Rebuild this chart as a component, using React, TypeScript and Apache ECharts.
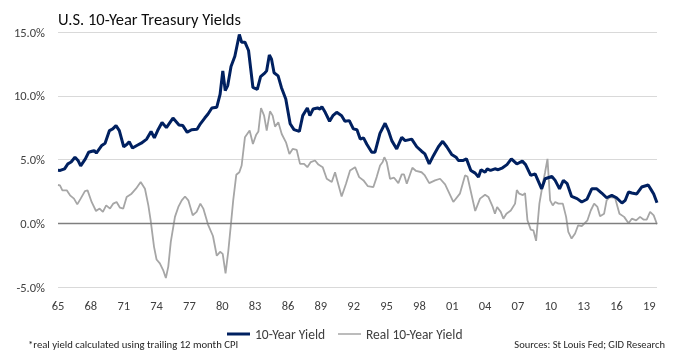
import { useEffect, useRef } from 'react';
import * as echarts from 'echarts';

const nominalYears = [
  1965.0, 1965.2, 1965.6, 1965.9, 1966.2, 1966.55, 1966.85, 1967.07, 1967.5, 1967.8,
  1968.1, 1968.3, 1968.5, 1969.0, 1969.3, 1969.7, 1970.0, 1970.3, 1970.6, 1971.0,
  1971.3, 1971.5, 1971.8, 1972.2, 1972.6, 1973.1, 1973.5, 1973.8, 1974.1, 1974.5,
  1974.9, 1975.5, 1976.05, 1976.4, 1976.8, 1977.2, 1977.7, 1978.0, 1978.4, 1978.7,
  1979.05, 1979.5, 1979.8, 1980.05, 1980.27, 1980.5, 1980.8, 1981.15, 1981.56, 1981.77,
  1982.07, 1982.4, 1982.8, 1983.2, 1983.5, 1983.9, 1984.05, 1984.3, 1984.5, 1984.73,
  1985.1, 1985.4, 1985.8, 1986.2, 1986.55, 1987.04, 1987.35, 1987.77, 1988.0, 1988.3,
  1988.7, 1988.93, 1989.1, 1989.4, 1989.8, 1990.1, 1990.45, 1990.9, 1991.2, 1991.6,
  1991.97, 1992.3, 1992.6, 1992.9, 1993.2, 1993.65, 1993.95, 1994.4, 1994.87, 1995.17,
  1995.48, 1995.93, 1996.39, 1996.7, 1997.3, 1997.76, 1998.2, 1998.5, 1998.9, 1999.28,
  1999.74, 2000.13, 2000.5, 2000.95, 2001.35, 2001.56, 2001.96, 2002.3, 2002.7, 2003.1,
  2003.4, 2003.63, 2004.0, 2004.2, 2004.5, 2004.9, 2005.2, 2005.6, 2006.0, 2006.4,
  2006.9, 2007.4, 2007.7, 2008.17, 2008.57, 2009.17, 2009.48, 2010.1, 2010.4, 2010.8,
  2011.15, 2011.5, 2011.9, 2012.4, 2012.83, 2013.3, 2013.74, 2014.2, 2014.65, 2015.1,
  2015.57, 2016.0, 2016.5, 2016.8, 2017.1, 2017.4, 2017.85, 2018.3, 2018.9, 2019.2,
  2019.4, 2019.7,
];
const nominalValues = [
  4.15, 4.14, 4.27, 4.66, 4.8, 5.18, 4.9, 4.5, 5.05, 5.57,
  5.65, 5.7, 5.5, 6.1, 6.27, 7.27, 7.4, 7.66, 7.27, 6.0,
  6.2, 6.4, 5.9, 6.1, 6.28, 6.6, 7.2, 6.7, 7.27, 7.9,
  7.5, 8.25, 7.7, 7.66, 7.13, 7.34, 7.37, 7.8, 8.25, 8.57,
  9.04, 9.1, 10.1, 11.95, 10.4, 10.8, 12.3, 13.1, 14.8, 14.2,
  14.2, 13.55, 10.65, 10.5, 11.5, 11.8, 11.95, 13.2, 12.86, 11.8,
  11.56, 10.65, 9.74, 7.8, 7.34, 7.2, 8.44, 9.04, 8.44, 8.96,
  9.04, 8.96, 9.14, 8.7, 8.0, 8.44, 8.7, 8.44, 8.0, 8.05,
  7.4, 7.34, 6.6, 6.7, 6.2, 5.57, 5.57, 7.05, 7.84, 7.27,
  6.48, 5.83, 6.74, 6.48, 6.6, 6.0, 5.65, 5.44, 4.66, 5.3,
  6.0, 6.43, 6.0, 5.4, 5.18, 4.92, 4.92, 5.05, 4.14, 3.93,
  3.62, 4.2, 4.0, 4.27, 4.14, 4.27, 4.2, 4.35, 4.6, 5.05,
  4.65, 4.87, 4.6, 3.75, 3.88, 2.7, 3.49, 3.67, 3.36, 2.7,
  3.36, 3.1, 2.1, 1.93, 1.67, 1.88, 2.7, 2.7, 2.37, 2.0,
  2.19, 2.0, 1.59, 1.8, 2.45, 2.37, 2.3, 2.84, 3.0, 2.58,
  2.3, 1.6,
];

const realYears = [
  1965.0, 1965.18, 1965.4, 1965.8, 1966.1, 1966.46, 1966.76, 1967.07, 1967.46, 1967.7,
  1968.07, 1968.47, 1968.8, 1969.1, 1969.4, 1969.75, 1970.05, 1970.35, 1970.66, 1970.96,
  1971.27, 1971.72, 1972.12, 1972.55, 1972.94, 1973.25, 1973.46, 1973.77, 1974.0, 1974.3,
  1974.6, 1974.85, 1975.07, 1975.3, 1975.68, 1975.99, 1976.3, 1976.6, 1976.9, 1977.3,
  1977.66, 1978.0, 1978.27, 1978.7, 1979.15, 1979.5, 1979.8, 1980.04, 1980.3, 1980.55,
  1980.8, 1981.0, 1981.28, 1981.56, 1981.77, 1982.07, 1982.5, 1982.8, 1983.1, 1983.3,
  1983.54, 1983.82, 1984.06, 1984.36, 1984.6, 1984.82, 1985.12, 1985.43, 1985.82, 1986.13,
  1986.43, 1986.8, 1987.1, 1987.47, 1987.77, 1988.08, 1988.47, 1988.78, 1989.17, 1989.54,
  1990.0, 1990.3, 1990.5, 1990.9, 1991.3, 1991.67, 1992.13, 1992.5, 1992.9, 1993.28,
  1993.8, 1994.1, 1994.41, 1994.65, 1994.8, 1995.02, 1995.32, 1995.69, 1996.08, 1996.39,
  1996.6, 1996.85, 1997.36, 1997.7, 1998.2, 1998.5, 1998.9, 1999.43, 1999.89, 2000.35,
  2001.1, 2001.7, 2002.17, 2002.39, 2003.1, 2003.54, 2004.0, 2004.3, 2004.7, 2004.9,
  2005.1, 2005.43, 2005.67, 2005.95, 2006.35, 2006.74, 2006.9, 2007.12, 2007.45, 2007.65,
  2007.87, 2008.17, 2008.41, 2008.66, 2008.96, 2009.27, 2009.48, 2009.7, 2009.94, 2010.18,
  2010.4, 2010.7, 2011.1, 2011.4, 2011.6, 2011.9, 2012.22, 2012.5, 2012.83, 2013.35,
  2013.65, 2013.96, 2014.26, 2014.5, 2014.87, 2015.1, 2015.4, 2015.87, 2016.27, 2016.7,
  2017.1, 2017.4, 2017.8, 2018.15, 2018.46, 2018.76, 2019.07, 2019.4, 2019.7,
];
const realValues = [
  3.0, 2.97, 2.58, 2.58, 2.19, 1.93, 1.48, 1.93, 2.52, 2.58,
  1.67, 0.96, 1.15, 0.89, 1.4, 1.15, 1.54, 1.67, 1.22, 1.15,
  2.06, 2.32, 2.71, 3.23, 2.71, 1.4, 0.23, -1.85, -2.84, -3.15,
  -3.67, -4.3, -3.4, -1.46, 0.5, 1.28, 1.8, 2.1, 1.8, 0.63,
  0.89, 1.54, 1.15, -0.1, -1.0, -2.55, -2.24, -2.4, -3.93, -2.2,
  0.0, 1.8, 3.8, 4.0, 4.53, 6.74, 7.27, 6.22, 6.95, 7.2,
  9.04, 8.44, 7.27, 8.78, 8.44, 7.58, 7.92, 7.0, 6.35, 5.44,
  5.83, 5.75, 4.66, 4.66, 4.4, 4.8, 4.92, 4.6, 4.4, 3.49,
  3.23, 4.0, 3.36, 2.1, 3.1, 4.14, 4.4, 3.62, 3.36, 2.92,
  2.84, 3.62, 4.53, 4.8, 5.18, 4.8, 3.49, 3.57, 3.15, 3.83,
  3.83, 3.1, 4.35, 4.1, 4.0, 3.75, 3.15, 3.36, 3.49, 3.05,
  1.67, 2.32, 3.75, 3.67, 0.96, 1.93, 2.24, 2.06, 1.28, 0.75,
  1.28, 0.89, 0.36, 0.75, 1.0, 1.54, 2.6, 2.32, 2.2, 2.37,
  0.23, -0.5, -0.55, -1.38, 1.54, 3.1, 4.0, 5.05, 1.8, 1.4,
  1.67, 1.54, 1.54, 0.5, -0.68, -1.2, -0.8, -0.16, -0.23, 0.23,
  1.0, 1.54, 1.28, 0.55, 0.75, 1.8, 2.06, 2.0, 0.75, 0.5,
  0.0, 0.36, 0.23, 0.5, 0.29, 0.29, 0.89, 0.62, -0.08,
];

const seriesNames = ['10-Year Yield', 'Real 10-Year Yield'];
const yTickValues = [-5, 0, 5, 10, 15];
const titleText = 'U.S. 10-Year Treasury Yields';
const footnoteText = '*real yield calculated using trailing 12 month CPI';
const sourceText = 'Sources: St Louis Fed; GID Research';

const FONT = 'Carlito, Calibri, Lato, "Open Sans", sans-serif';
const NAVY = '#002060';
const GRAY = '#a6a6a6';

export default function App() {
  const ref = useRef<HTMLDivElement>(null);
  useEffect(() => {
    if (!ref.current) return;
    document.body.style.margin = '0';
    const chart = echarts.init(ref.current, undefined, { renderer: 'svg' });
    const zip = (xs: number[], ys: number[]) => xs.map((x, i) => [x, ys[i]]);
    const legendText = { fontFamily: FONT, fontSize: 13.5, color: '#404040' };
    chart.setOption({
      animation: false,
      textStyle: { fontFamily: FONT },
      title: {
        text: titleText,
        left: 53,
        top: 5,
        textStyle: { fontFamily: FONT, fontSize: 16.5, fontWeight: 'normal', color: '#0d0d0d' },
      },
      grid: { left: 58, right: 17, top: 32, bottom: 72 },
      legend: [
        {
          data: [seriesNames[0]],
          left: 222,
          top: 322,
          icon: 'rect',
          itemWidth: 23,
          itemHeight: 3,
          textStyle: legendText,
        },
        {
          data: [seriesNames[1]],
          left: 333,
          top: 322,
          icon: 'rect',
          itemWidth: 23,
          itemHeight: 1.5,
          textStyle: legendText,
        },
      ],
      xAxis: {
        type: 'value',
        min: 1965,
        max: 2019.7,
        interval: 3,
        axisLine: { show: false },
        axisTick: { show: false },
        splitLine: { show: false },
        axisLabel: {
          margin: 12,
          fontFamily: FONT,
          fontSize: 12.5,
          color: '#404040',
          showMaxLabel: false,
          formatter: (v: number) => {
            const r = Math.round(v);
            if (Math.abs(v - r) > 1e-6 || (r - 1965) % 3 !== 0) return '';
            return String(r % 100).padStart(2, '0');
          },
        },
      },
      yAxis: {
        type: 'value',
        min: yTickValues[0],
        max: yTickValues[yTickValues.length - 1],
        interval: 5,
        axisLine: { show: false },
        axisTick: { show: false },
        splitLine: { lineStyle: { color: '#d9d9d9', width: 1 } },
        axisLabel: {
          margin: 13,
          fontFamily: FONT,
          fontSize: 12.5,
          color: '#404040',
          formatter: (v: number) => v.toFixed(1) + '%',
        },
      },
      series: [
        {
          name: seriesNames[0],
          type: 'line',
          data: zip(nominalYears, nominalValues),
          symbol: 'none',
          z: 3,
          lineStyle: { color: NAVY, width: 3 },
          itemStyle: { color: NAVY },
          markLine: {
            silent: true,
            symbol: 'none',
            label: { show: false },
            lineStyle: { color: '#7f7f7f', width: 1.3, type: 'solid' },
            data: [{ yAxis: 0 }],
          },
        },
        {
          name: seriesNames[1],
          type: 'line',
          data: zip(realYears, realValues),
          symbol: 'none',
          z: 2,
          lineStyle: { color: GRAY, width: 1.8 },
          itemStyle: { color: GRAY },
        },
      ],
      graphic: [
        {
          type: 'text',
          left: 28,
          top: 339,
          style: { text: footnoteText, fontFamily: FONT, fontSize: 10.7, fill: '#262626' },
        },
        {
          type: 'text',
          right: 9,
          top: 339,
          style: { text: sourceText, fontFamily: FONT, fontSize: 10.5, fill: '#262626' },
        },
      ],
    });
    return () => chart.dispose();
  }, []);
  return (
    <div
      ref={ref}
      style={{ position: 'fixed', left: 0, top: 0, width: 674, height: 359 }}
    />
  );
}
